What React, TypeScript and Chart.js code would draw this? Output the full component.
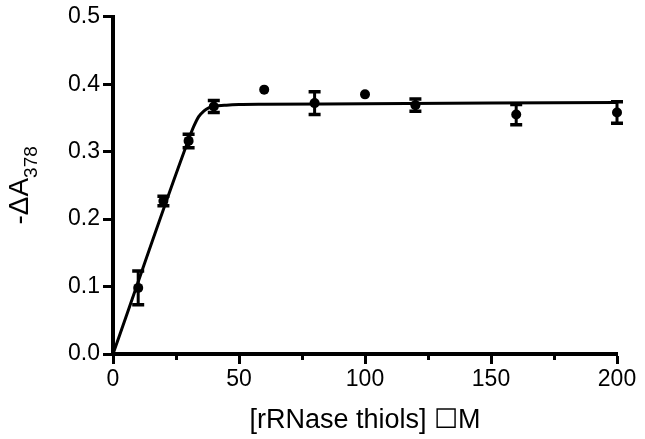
import React, { useEffect, useRef } from 'react';
import { Chart, registerables } from 'chart.js';

Chart.register(...registerables);

// Measured data points (concentration, -ΔA378, error)
const xValues = [10, 20, 30, 40, 60, 80, 100, 120, 160, 200];
const yValues = [0.098, 0.227, 0.316, 0.367, 0.392, 0.372, 0.385, 0.369, 0.355, 0.358];
const yErrors = [0.025, 0.007, 0.01, 0.009, 0, 0.017, 0, 0.009, 0.015, 0.016];

// Fitted curve
const fitX = [0, 30, 32, 34, 36, 38, 40, 45, 50, 60, 100, 150, 200];
const fitY = [0, 0.318, 0.337, 0.352, 0.36, 0.365, 0.367, 0.369, 0.37, 0.3705, 0.371, 0.372, 0.373];

const xMinorTicks = [25, 75, 125, 175];
const xTitle = '[rRNase thiols] \u2610M';
const yTitleMain = '-\u0394A';
const yTitleSub = '378';

const FONT = '"Liberation Sans", Arial, sans-serif';

export default function App() {
  const ref = useRef<HTMLCanvasElement | null>(null);

  useEffect(() => {
    if (!ref.current) return;

    const extras = {
      id: 'extras',
      afterDatasetsDraw(chart: any) {
        const { ctx, scales } = chart;
        const x = scales.x;
        const y = scales.y;
        ctx.save();
        ctx.strokeStyle = '#000';
        ctx.lineCap = 'butt';
        for (let i = 0; i < xValues.length; i++) {
          const e = yErrors[i];
          if (!e) continue;
          const px = x.getPixelForValue(xValues[i]);
          const top = y.getPixelForValue(yValues[i] + e);
          const bot = y.getPixelForValue(yValues[i] - e);
          ctx.lineWidth = 3;
          ctx.beginPath();
          ctx.moveTo(px, top);
          ctx.lineTo(px, bot);
          ctx.stroke();
          ctx.lineWidth = 3.5;
          ctx.beginPath();
          ctx.moveTo(px - 6, top);
          ctx.lineTo(px + 6, top);
          ctx.moveTo(px - 6, bot);
          ctx.lineTo(px + 6, bot);
          ctx.stroke();
        }
        ctx.restore();
      },
      afterDraw(chart: any) {
        const { ctx, scales, chartArea } = chart;
        const x = scales.x;
        ctx.save();
        ctx.strokeStyle = '#000';
        ctx.lineWidth = 3;
        for (const v of xMinorTicks) {
          const px = Math.round(x.getPixelForValue(v)) + 0.5;
          ctx.beginPath();
          ctx.moveTo(px, chartArea.bottom);
          ctx.lineTo(px, chartArea.bottom + 6);
          ctx.stroke();
        }
        // y-axis title with subscript
        const cy = (chartArea.top + chartArea.bottom) / 2;
        ctx.translate(28, cy);
        ctx.rotate(-Math.PI / 2);
        ctx.fillStyle = '#000';
        ctx.textBaseline = 'alphabetic';
        ctx.textAlign = 'left';
        const mainFont = `28px ${FONT}`;
        const subFont = `19px ${FONT}`;
        ctx.font = mainFont;
        const wMain = ctx.measureText(yTitleMain).width;
        ctx.font = subFont;
        const wSub = ctx.measureText(yTitleSub).width;
        const start = -(wMain + wSub) / 2;
        ctx.font = mainFont;
        ctx.fillText(yTitleMain, start, 0);
        ctx.font = subFont;
        ctx.fillText(yTitleSub, start + wMain, 9);
        ctx.restore();
      },
    };

    const chart = new Chart(ref.current, {
      type: 'scatter',
      data: {
        datasets: [
          {
            data: fitX.map((v, i) => ({ x: v, y: fitY[i] })),
            showLine: true,
            borderColor: '#000',
            borderWidth: 3,
            pointRadius: 0,
            cubicInterpolationMode: 'monotone',
            fill: false,
          } as any,
          {
            data: xValues.map((v, i) => ({ x: v, y: yValues[i] })),
            backgroundColor: '#000',
            borderColor: '#000',
            pointRadius: 5,
            pointBorderWidth: 0,
            clip: false,
          } as any,
        ],
      },
      options: {
        animation: false,
        responsive: false,
        devicePixelRatio: 1,
        layout: { padding: { left: 50, top: 2, right: 28, bottom: 0 } },
        plugins: {
          legend: { display: false },
          tooltip: { enabled: false },
        },
        scales: {
          x: {
            type: 'linear',
            min: 0,
            max: 200,
            ticks: {
              stepSize: 25,
              autoSkip: false,
              maxRotation: 0,
              padding: 2,
              color: '#000',
              font: { family: FONT, size: 23 },
              callback: (v: any) => (Number(v) % 50 === 0 ? String(v) : ''),
            },
            grid: {
              drawOnChartArea: false,
              tickLength: 10,
              tickWidth: 3,
              tickColor: (ctx: any) =>
                ctx.tick && ctx.tick.value % 50 === 0 ? '#000' : 'rgba(0,0,0,0)',
            },
            border: { color: '#000', width: 4 },
            title: {
              display: true,
              text: xTitle,
              color: '#000',
              font: { family: FONT, size: 27 },
              padding: { top: 0, bottom: 2 },
            },
            afterFit: (s: any) => {
              s.height = 85;
            },
          },
          y: {
            type: 'linear',
            min: 0,
            max: 0.5,
            ticks: {
              stepSize: 0.1,
              padding: 3,
              color: '#000',
              font: { family: FONT, size: 23 },
              callback: (v: any) => Number(v).toFixed(1),
            },
            grid: {
              drawOnChartArea: false,
              tickLength: 10,
              tickWidth: 3,
              tickColor: '#000',
            },
            border: { color: '#000', width: 4 },
            afterFit: (s: any) => {
              s.width = 63;
            },
          },
        },
      } as any,
      plugins: [extras],
    });

    return () => chart.destroy();
  }, []);

  return (
    <div style={{ position: 'fixed', left: 0, top: 0, width: 645, height: 439, background: '#fff' }}>
      <canvas ref={ref} width={645} height={439} style={{ display: 'block' }} />
    </div>
  );
}
